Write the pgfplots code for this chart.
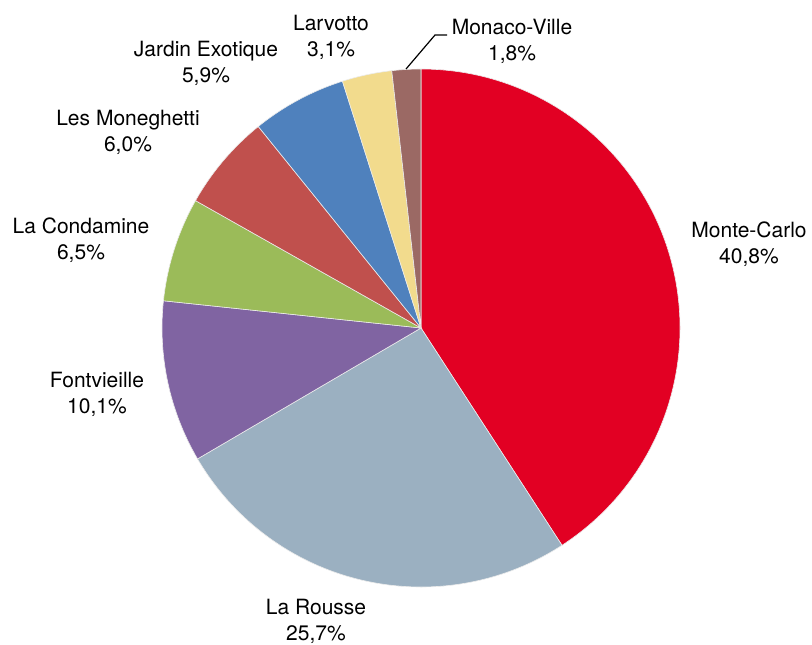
\documentclass[border=0pt]{standalone}
\usepackage{pgfplots}
\usepackage{pgfplotstable}
\pgfplotsset{compat=1.18}
\usepackage{fontspec}
\setmainfont{TeX Gyre Heros}
\definecolor{cMC}{RGB}{226,0,35}
\definecolor{cLR}{RGB}{155,176,193}
\definecolor{cFV}{RGB}{128,100,162}
\definecolor{cLC}{RGB}{155,187,89}
\definecolor{cLM}{RGB}{192,80,77}
\definecolor{cJE}{RGB}{79,129,189}
\definecolor{cLV}{RGB}{242,219,141}
\definecolor{cMV}{RGB}{155,105,100}
\pgfplotstableread[col sep=comma]{
name,value,color,lx,ly
Monte-Carlo,40.8,cMC,749,244
La Rousse,25.7,cLR,316,621
Fontvieille,10.1,cFV,97,394
La Condamine,6.5,cLC,81,240
Les Moneghetti,6.0,cLM,128,132
Jardin Exotique,5.9,cJE,206,63
Larvotto,3.1,cLV,331,37
Monaco-Ville,1.8,cMV,512,41
}\datatable
\begin{document}
\begin{tikzpicture}
\begin{axis}[
  xmin=0, xmax=812, ymin=0, ymax=644, y dir=reverse,
  width=406pt, height=322pt, scale only axis, hide axis, clip=false]
\pgfplotsextra{%
  \path (axis cs:0,0) rectangle (axis cs:812,644);
  \def\angstart{90}%
  \pgfplotsforeachungrouped \i in {0,...,7}{%
    \pgfplotstablegetelem{\i}{value}\of\datatable \let\val\pgfplotsretval
    \pgfplotstablegetelem{\i}{color}\of\datatable \let\col\pgfplotsretval
    \pgfplotstablegetelem{\i}{name}\of\datatable \let\nam\pgfplotsretval
    \pgfplotstablegetelem{\i}{lx}\of\datatable \let\lx\pgfplotsretval
    \pgfplotstablegetelem{\i}{ly}\of\datatable \let\ly\pgfplotsretval
    \pgfmathsetmacro\angend{\angstart-360*\val/99.9}%
    \fill[fill=\col, draw=white!85!gray, line width=0.3pt]
      (axis cs:421,328) -- ++(\angstart:129.5pt)
      arc[start angle=\angstart, end angle=\angend, radius=129.5pt] -- cycle;
    \node[align=center, font=\fontsize{10.5}{13}\selectfont, inner sep=0pt]
      at (axis cs:\lx,\ly) {\nam\\\pgfmathprintnumber[fixed, fixed zerofill, precision=1, use comma, assume math mode=true]{\val}\%};
    \let\angstart\angend
  }%
  \draw[black, line width=0.6pt] (axis cs:406,69) -- (axis cs:435,35) -- (axis cs:447,35);
}
\end{axis}
\end{tikzpicture}
\end{document}
